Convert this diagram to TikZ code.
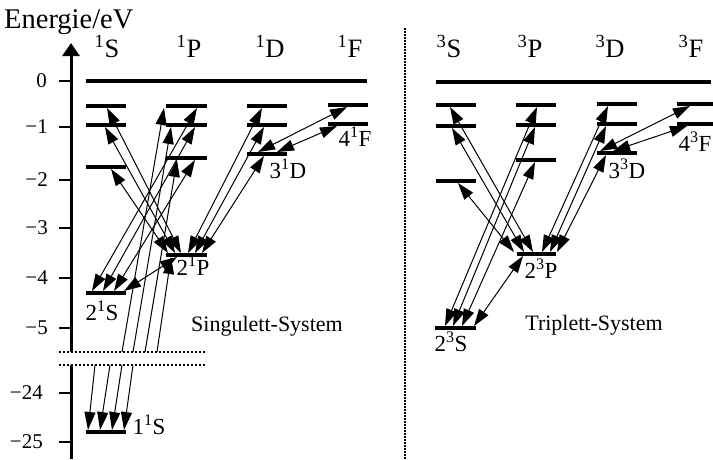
\documentclass[tikz,border=0pt]{standalone}
\usepackage{fontspec}
\setmainfont{Liberation Serif}
\usetikzlibrary{arrows.meta}

\newcommand\tickfont{\fontsize{21}{21}\selectfont}
\newcommand\termfont{\fontsize{26.5}{26.5}\selectfont}
\newcommand\lblfont{\fontsize{23}{23}\selectfont}
\newcommand\sysfont{\fontsize{22}{22}\selectfont}

\begin{document}
\begin{tikzpicture}[x=1pt,y=-1pt,
  elev/.style={line width=4pt},
  tick/.style={line width=2pt},
  brk/.style={line width=2pt, dash pattern=on 2pt off 2pt},
  sep/.style={line width=1.8pt, dash pattern=on 1.6pt off 1.4pt},
  tr/.style={line width=1pt,
    {Triangle[length=17pt,width=11pt]}-{Triangle[length=17pt,width=11pt]}},
  trup/.style={line width=1pt, {Triangle[length=17pt,width=11pt]}-},
  trdown/.style={line width=1pt, -{Triangle[length=18pt,width=11pt]}},
  tlab/.style={font=\tickfont, anchor=east, inner sep=0pt},
  term/.style={font=\termfont, anchor=base, inner sep=0pt},
  lab/.style={font=\lblfont, inner sep=0pt},
  sys/.style={font=\sysfont, anchor=base, inner sep=0pt},
]
\useasboundingbox (0,0) rectangle (713,459);

% ---------- energy axis ----------
\coordinate (axbot) at (71,459);
\coordinate (axbrk1) at (71,365);
\coordinate (axbrk2) at (71,352);
\coordinate (axtop) at (71,43);
\draw[line width=3pt] (axbot) -- (axbrk1);
\draw[line width=3pt, -{Triangle[length=13pt,width=17pt]}] (axbrk2) -- (axtop);
\node[font=\fontsize{28.5}{28.5}\selectfont, anchor=base west, inner sep=0pt] (axlabel) at (4,28) {Energie/eV};

\foreach \yy/\tx/\xe in {81/0/47, 127/−1/48, 180/−2/48, 228/−3/48, 278/−4/48, 328/−5/48, 393/−24/43, 442/−25/43}{
  \draw[tick] (59,\yy) -- (71,\yy);
  \node[tlab] at (\xe,\yy) {\tx};
}

% axis break
\draw[brk] (59,352) -- (206,352);
\draw[brk] (59,365) -- (206,365);

% separator between the two systems
\draw[sep] (405,28) -- (405,459);

% ---------- term symbols ----------
\node[term] (hS1) at (107,57) {\textsuperscript{1}S};
\node[term] (hP1) at (189,57) {\textsuperscript{1}P};
\node[term] (hD1) at (270,57) {\textsuperscript{1}D};
\node[term] (hF1) at (350,57) {\textsuperscript{1}F};
\node[term] (hS3) at (449,57) {\textsuperscript{3}S};
\node[term] (hP3) at (530,57) {\textsuperscript{3}P};
\node[term] (hD3) at (610,57) {\textsuperscript{3}D};
\node[term] (hF3) at (691,57) {\textsuperscript{3}F};

% ---------- singlet levels ----------
\draw[elev] (86,81) -- (367,81);
\draw[elev] (86,106) -- (126,106);
\draw[elev] (86,125) -- (126,125);
\draw[elev] (86,167) -- (126,167);
\draw[elev] (166,106) -- (207,106);
\draw[elev] (166,125) -- (207,125);
\draw[elev] (166,158) -- (207,158);
\draw[elev] (247,106) -- (287,106);
\draw[elev] (247,125) -- (287,125);
\draw[elev] (247,154) -- (287,154);
\draw[elev] (328,105) -- (368,105);
\draw[elev] (328,124) -- (368,124);
\draw[elev] (166,255) -- (207,255);
\draw[elev] (86,293) -- (126,293);
\draw[elev] (86,432) -- (126,432);

% ---------- triplet levels ----------
\draw[elev] (436,82) -- (711,82);
\draw[elev] (436,105) -- (476,105);
\draw[elev] (436,126) -- (476,126);
\draw[elev] (436,181) -- (476,181);
\draw[elev] (516,105) -- (556,105);
\draw[elev] (516,125) -- (556,125);
\draw[elev] (516,160) -- (556,160);
\draw[elev] (597,104) -- (637,104);
\draw[elev] (597,124) -- (637,124);
\draw[elev] (597,153) -- (637,153);
\draw[elev] (677,104) -- (713,104);
\draw[elev] (677,124) -- (713,124);
\draw[elev] (517,254) -- (556,254);
\draw[elev] (435,328) -- (476,328);

% ---------- level labels ----------
\node[lab] (l21P) at (193,266) {2\textsuperscript{1}P};
\node[lab] (l21S) at (102,311) {2\textsuperscript{1}S};
\node[lab] (l11S) at (149,425) {1\textsuperscript{1}S};
\node[lab] (l31D) at (288,169) {3\textsuperscript{1}D};
\node[lab] (l41F) at (355,137) {4\textsuperscript{1}F};
\node[lab] (l23P) at (541,269) {2\textsuperscript{3}P};
\node[lab] (l23S) at (451,342) {2\textsuperscript{3}S};
\node[lab] (l33D) at (627,169) {3\textsuperscript{3}D};
\node[lab] (l43F) at (695,142) {4\textsuperscript{3}F};
\node[sys] (sing) at (267,331) {Singulett-System};
\node[sys] (trip) at (594,330) {Triplett-System};

% ---------- singlet transition end points ----------
\coordinate (s5a) at (107,108);  \coordinate (p2s5) at (181,253);
\coordinate (s4a) at (105,127);  \coordinate (p2s4) at (175,253);
\coordinate (s3a) at (111,169);  \coordinate (p2s3) at (168,253);
\coordinate (d5a) at (262,108);  \coordinate (p2d5) at (188,253);
\coordinate (d4a) at (264,127);  \coordinate (p2d4) at (195,253);
\coordinate (d3a) at (264,156);  \coordinate (p2d3) at (202,253);
\coordinate (p5a) at (197,108);  \coordinate (s2p5) at (92,291);
\coordinate (p4a) at (195,127);  \coordinate (s2p4) at (103,291);
\coordinate (p3a) at (195,160);  \coordinate (s2p3) at (114,291);
\coordinate (p2s2) at (177,257); \coordinate (s2p2) at (124,291);
\coordinate (d3f5) at (258,152); \coordinate (f5d) at (347,107);
\coordinate (d3f4) at (277,152); \coordinate (f4d) at (337,126);
% resonance lines to the ground state, split by the axis break
\coordinate (p5b) at (164,108);  \coordinate (cutA) at (122,352);
\coordinate (p4b) at (171,127);  \coordinate (cutB) at (133,352);
\coordinate (p3b) at (177,160);  \coordinate (cutC) at (145,352);
\coordinate (p2b) at (171,257);  \coordinate (cutD) at (157,352);
\coordinate (resA) at (95,365);  \coordinate (s1A) at (88,430);
\coordinate (resB) at (110,365); \coordinate (s1B) at (100,430);
\coordinate (resC) at (122,365); \coordinate (s1C) at (112,430);
\coordinate (resD) at (133,365); \coordinate (s1D) at (124,430);

\draw[tr] (s5a) -- (p2s5);
\draw[tr] (s4a) -- (p2s4);
\draw[tr] (s3a) -- (p2s3);
\draw[tr] (d5a) -- (p2d5);
\draw[tr] (d4a) -- (p2d4);
\draw[tr] (d3a) -- (p2d3);
\draw[tr] (p5a) -- (s2p5);
\draw[tr] (p4a) -- (s2p4);
\draw[tr] (p3a) -- (s2p3);
\draw[tr] (p2s2) -- (s2p2);
\draw[tr] (d3f5) -- (f5d);
\draw[tr] (d3f4) -- (f4d);
\draw[trup] (p5b) -- (cutA);
\draw[trup] (p4b) -- (cutB);
\draw[trup] (p3b) -- (cutC);
\draw[trup] (p2b) -- (cutD);
\draw[trdown] (resA) -- (s1A);
\draw[trdown] (resB) -- (s1B);
\draw[trdown] (resC) -- (s1C);
\draw[trdown] (resD) -- (s1D);

% ---------- triplet transition end points ----------
\coordinate (ts5) at (450,107);   \coordinate (tp2s5) at (533,252);
\coordinate (ts4) at (452,128);   \coordinate (tp2s4) at (524,252);
\coordinate (ts3) at (458,183);   \coordinate (tp2s3) at (514,252);
\coordinate (td5) at (608,106);   \coordinate (tp2d5) at (542,252);
\coordinate (td4) at (606,126);   \coordinate (tp2d4) at (550,252);
\coordinate (td3) at (606,155);   \coordinate (tp2d3) at (557,252);
\coordinate (tp5) at (537,107);   \coordinate (ts2p5) at (445,326);
\coordinate (tp4) at (535,127);   \coordinate (ts2p4) at (453,326);
\coordinate (tp3) at (535,162);   \coordinate (ts2p3) at (462,326);
\coordinate (tp2s2) at (523,256); \coordinate (ts2p2) at (474,326);
\coordinate (td3f5) at (600,151); \coordinate (tf5) at (690,106);
\coordinate (td3f4) at (613,151); \coordinate (tf4) at (687,126);

\draw[tr] (ts5) -- (tp2s5);
\draw[tr] (ts4) -- (tp2s4);
\draw[tr] (ts3) -- (tp2s3);
\draw[tr] (td5) -- (tp2d5);
\draw[tr] (td4) -- (tp2d4);
\draw[tr] (td3) -- (tp2d3);
\draw[tr] (tp5) -- (ts2p5);
\draw[tr] (tp4) -- (ts2p4);
\draw[tr] (tp3) -- (ts2p3);
\draw[tr] (tp2s2) -- (ts2p2);
\draw[tr] (td3f5) -- (tf5);
\draw[tr] (td3f4) -- (tf4);
\end{tikzpicture}
\end{document}
